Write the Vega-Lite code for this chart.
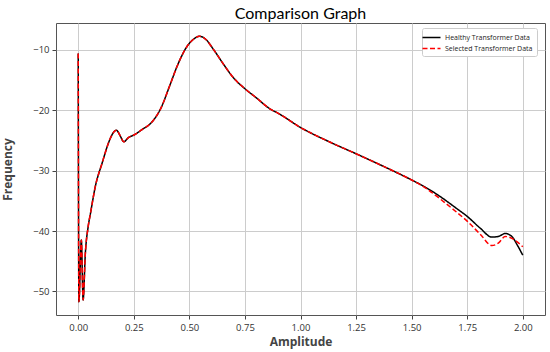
{
  "$schema": "https://vega.github.io/schema/vega-lite/v6.json",
  "width": 489,
  "height": 292,
  "autosize": {"type": "none"},
  "padding": {"left": 56, "top": 23, "right": 5, "bottom": 37},
  "title": {"text": "Comparison Graph", "font": "Lato", "fontSize": 16, "fontWeight": "normal", "color": "#000", "anchor": "middle", "frame": "group", "offset": 1},
  "config": {
    "view": {"stroke": "#555", "strokeWidth": 1},
    "axis": {
      "domain": false,
      "grid": true,
      "gridColor": "#cccccc",
      "gridWidth": 1,
      "tickColor": "#444",
      "tickSize": 4,
      "labelFont": "Open Sans",
      "labelFontSize": 9.5,
      "labelColor": "#333",
      "labelPadding": 3,
      "titleFont": "Open Sans",
      "titleFontSize": 12,
      "titleFontWeight": "bold",
      "titleColor": "#444"
    }
  },
  "data": {
    "values": [
      {"series": "Healthy Transformer Data", "x": 0.000, "y": -10.6},
      {"series": "Healthy Transformer Data", "x": 0.003, "y": -51.7},
      {"series": "Healthy Transformer Data", "x": 0.014, "y": -41.5},
      {"series": "Healthy Transformer Data", "x": 0.022, "y": -51.4},
      {"series": "Healthy Transformer Data", "x": 0.032, "y": -43.7},
      {"series": "Healthy Transformer Data", "x": 0.045, "y": -39.2},
      {"series": "Healthy Transformer Data", "x": 0.055, "y": -37.1},
      {"series": "Healthy Transformer Data", "x": 0.077, "y": -32.6},
      {"series": "Healthy Transformer Data", "x": 0.107, "y": -28.8},
      {"series": "Healthy Transformer Data", "x": 0.145, "y": -24.6},
      {"series": "Healthy Transformer Data", "x": 0.160, "y": -23.6},
      {"series": "Healthy Transformer Data", "x": 0.172, "y": -23.3},
      {"series": "Healthy Transformer Data", "x": 0.187, "y": -24.1},
      {"series": "Healthy Transformer Data", "x": 0.205, "y": -25.2},
      {"series": "Healthy Transformer Data", "x": 0.227, "y": -24.5},
      {"series": "Healthy Transformer Data", "x": 0.250, "y": -24.1},
      {"series": "Healthy Transformer Data", "x": 0.287, "y": -23.2},
      {"series": "Healthy Transformer Data", "x": 0.325, "y": -22.2},
      {"series": "Healthy Transformer Data", "x": 0.370, "y": -19.8},
      {"series": "Healthy Transformer Data", "x": 0.415, "y": -15.6},
      {"series": "Healthy Transformer Data", "x": 0.445, "y": -12.7},
      {"series": "Healthy Transformer Data", "x": 0.490, "y": -9.4},
      {"series": "Healthy Transformer Data", "x": 0.520, "y": -8.2},
      {"series": "Healthy Transformer Data", "x": 0.546, "y": -7.75},
      {"series": "Healthy Transformer Data", "x": 0.572, "y": -8.2},
      {"series": "Healthy Transformer Data", "x": 0.609, "y": -9.95},
      {"series": "Healthy Transformer Data", "x": 0.654, "y": -12.4},
      {"series": "Healthy Transformer Data", "x": 0.699, "y": -14.65},
      {"series": "Healthy Transformer Data", "x": 0.749, "y": -16.4},
      {"series": "Healthy Transformer Data", "x": 0.800, "y": -17.9},
      {"series": "Healthy Transformer Data", "x": 0.864, "y": -19.8},
      {"series": "Healthy Transformer Data", "x": 0.900, "y": -20.5},
      {"series": "Healthy Transformer Data", "x": 0.998, "y": -22.8},
      {"series": "Healthy Transformer Data", "x": 1.134, "y": -25.3},
      {"series": "Healthy Transformer Data", "x": 1.250, "y": -27.2},
      {"series": "Healthy Transformer Data", "x": 1.374, "y": -29.3},
      {"series": "Healthy Transformer Data", "x": 1.498, "y": -31.5},
      {"series": "Healthy Transformer Data", "x": 1.560, "y": -32.7},
      {"series": "Healthy Transformer Data", "x": 1.629, "y": -34.3},
      {"series": "Healthy Transformer Data", "x": 1.700, "y": -36.2},
      {"series": "Healthy Transformer Data", "x": 1.751, "y": -37.6},
      {"series": "Healthy Transformer Data", "x": 1.808, "y": -39.5},
      {"series": "Healthy Transformer Data", "x": 1.861, "y": -41.0},
      {"series": "Healthy Transformer Data", "x": 1.890, "y": -40.9},
      {"series": "Healthy Transformer Data", "x": 1.921, "y": -40.4},
      {"series": "Healthy Transformer Data", "x": 1.951, "y": -40.9},
      {"series": "Healthy Transformer Data", "x": 1.975, "y": -42.3},
      {"series": "Healthy Transformer Data", "x": 2.000, "y": -44.0},
      {"series": "Selected Transformer Data", "x": 0.000, "y": -10.6},
      {"series": "Selected Transformer Data", "x": 0.003, "y": -51.7},
      {"series": "Selected Transformer Data", "x": 0.014, "y": -41.5},
      {"series": "Selected Transformer Data", "x": 0.022, "y": -51.4},
      {"series": "Selected Transformer Data", "x": 0.032, "y": -43.7},
      {"series": "Selected Transformer Data", "x": 0.045, "y": -39.2},
      {"series": "Selected Transformer Data", "x": 0.055, "y": -37.1},
      {"series": "Selected Transformer Data", "x": 0.077, "y": -32.6},
      {"series": "Selected Transformer Data", "x": 0.107, "y": -28.8},
      {"series": "Selected Transformer Data", "x": 0.145, "y": -24.6},
      {"series": "Selected Transformer Data", "x": 0.160, "y": -23.6},
      {"series": "Selected Transformer Data", "x": 0.172, "y": -23.3},
      {"series": "Selected Transformer Data", "x": 0.187, "y": -24.1},
      {"series": "Selected Transformer Data", "x": 0.205, "y": -25.2},
      {"series": "Selected Transformer Data", "x": 0.227, "y": -24.5},
      {"series": "Selected Transformer Data", "x": 0.250, "y": -24.1},
      {"series": "Selected Transformer Data", "x": 0.287, "y": -23.2},
      {"series": "Selected Transformer Data", "x": 0.325, "y": -22.2},
      {"series": "Selected Transformer Data", "x": 0.370, "y": -19.8},
      {"series": "Selected Transformer Data", "x": 0.415, "y": -15.6},
      {"series": "Selected Transformer Data", "x": 0.445, "y": -12.7},
      {"series": "Selected Transformer Data", "x": 0.490, "y": -9.4},
      {"series": "Selected Transformer Data", "x": 0.520, "y": -8.2},
      {"series": "Selected Transformer Data", "x": 0.546, "y": -7.75},
      {"series": "Selected Transformer Data", "x": 0.572, "y": -8.2},
      {"series": "Selected Transformer Data", "x": 0.609, "y": -9.95},
      {"series": "Selected Transformer Data", "x": 0.654, "y": -12.4},
      {"series": "Selected Transformer Data", "x": 0.699, "y": -14.65},
      {"series": "Selected Transformer Data", "x": 0.749, "y": -16.4},
      {"series": "Selected Transformer Data", "x": 0.800, "y": -17.9},
      {"series": "Selected Transformer Data", "x": 0.864, "y": -19.8},
      {"series": "Selected Transformer Data", "x": 0.900, "y": -20.5},
      {"series": "Selected Transformer Data", "x": 0.998, "y": -22.8},
      {"series": "Selected Transformer Data", "x": 1.134, "y": -25.3},
      {"series": "Selected Transformer Data", "x": 1.250, "y": -27.2},
      {"series": "Selected Transformer Data", "x": 1.374, "y": -29.3},
      {"series": "Selected Transformer Data", "x": 1.498, "y": -31.5},
      {"series": "Selected Transformer Data", "x": 1.560, "y": -32.8},
      {"series": "Selected Transformer Data", "x": 1.629, "y": -34.7},
      {"series": "Selected Transformer Data", "x": 1.700, "y": -36.8},
      {"series": "Selected Transformer Data", "x": 1.751, "y": -38.4},
      {"series": "Selected Transformer Data", "x": 1.808, "y": -40.5},
      {"series": "Selected Transformer Data", "x": 1.861, "y": -42.4},
      {"series": "Selected Transformer Data", "x": 1.890, "y": -42.0},
      {"series": "Selected Transformer Data", "x": 1.921, "y": -40.9},
      {"series": "Selected Transformer Data", "x": 1.951, "y": -41.2},
      {"series": "Selected Transformer Data", "x": 1.975, "y": -41.8},
      {"series": "Selected Transformer Data", "x": 2.000, "y": -42.6}
    ]
  },
  "mark": {"type": "line", "interpolate": "monotone", "strokeWidth": 1.5},
  "encoding": {
    "x": {
      "field": "x", "type": "quantitative",
      "scale": {"domain": [-0.1, 2.1], "nice": false, "zero": false},
      "axis": {"values": [0, 0.25, 0.5, 0.75, 1, 1.25, 1.5, 1.75, 2], "format": ".2f", "title": "Amplitude", "titlePadding": 5}
    },
    "y": {
      "field": "y", "type": "quantitative",
      "scale": {"domain": [-53.9, -5.55], "nice": false, "zero": false},
      "axis": {"values": [-50, -40, -30, -20, -10], "title": "Frequency", "titlePadding": 18}
    },
    "color": {
      "field": "series", "type": "nominal",
      "scale": {"domain": ["Healthy Transformer Data", "Selected Transformer Data"], "range": ["#000000", "#ff0000"]},
      "legend": {
        "title": null, "orient": "none", "legendX": 366, "legendY": 5,
        "symbolType": "M-2,0L2,0", "symbolSize": 81, "symbolStrokeWidth": 1.5,
        "labelFont": "Open Sans", "labelFontSize": 7, "labelColor": "#222", "labelOffset": 8,
        "rowPadding": 2, "padding": 4, "strokeColor": "#cccccc", "fillColor": "#ffffff", "cornerRadius": 2
      }
    },
    "strokeDash": {
      "field": "series", "type": "nominal",
      "scale": {"domain": ["Healthy Transformer Data", "Selected Transformer Data"], "range": [[1, 0], [5, 2.5]]},
      "legend": {
        "title": null, "orient": "none", "legendX": 366, "legendY": 5,
        "symbolType": "M-2,0L2,0", "symbolSize": 81, "symbolStrokeWidth": 1.5,
        "labelFont": "Open Sans", "labelFontSize": 7, "labelColor": "#222", "labelOffset": 8,
        "rowPadding": 2, "padding": 4, "strokeColor": "#cccccc", "fillColor": "#ffffff", "cornerRadius": 2
      }
    }
  }
}
